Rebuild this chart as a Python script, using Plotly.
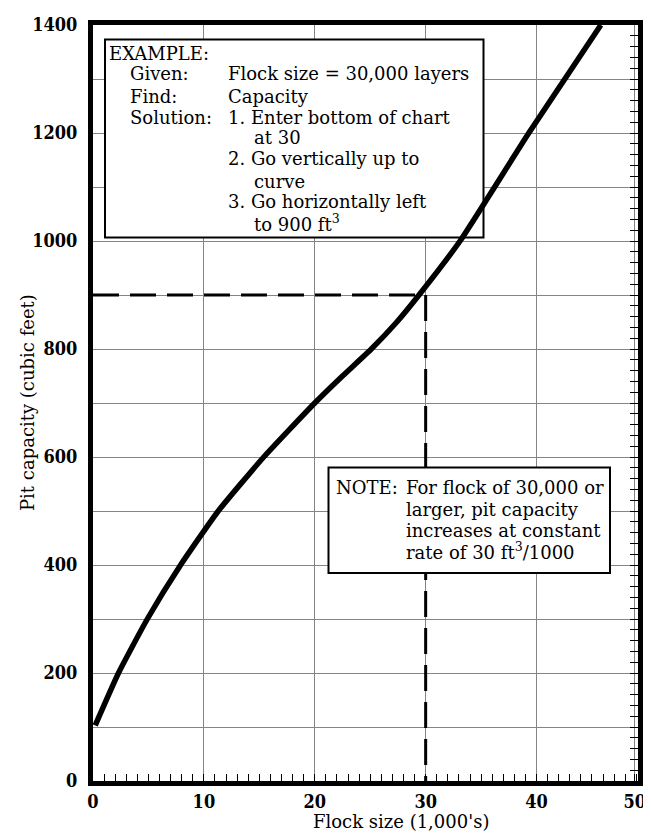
import plotly.graph_objects as go

# ---------------- data ----------------
flock_k = [0.2, 2.3, 4.9, 7.9, 11.3, 15.4, 20.0, 22.5, 25.1, 27.4, 29.4, 33.1, 39.3, 45.8]
capacity_ft3 = [103, 200, 300, 400, 500, 600, 700, 750, 800, 850, 900, 1000, 1200, 1400]

example_flock = 30
example_capacity = 900

x_tick_labels = ["0", "10", "20", "30", "40", "50"]
x_tick_vals = [0, 10, 20, 30, 40]
y_tick_vals = [0, 200, 400, 600, 800, 1000, 1200, 1400]

# ---------------- layout geometry ----------------
OFF = 8                      # page body margin of the html page
W, H = 651 - OFF, 836 - OFF  # figure size
ML, MT = 93 - OFF, 25 - OFF
PW, PH = 545, 756
MR = W - ML - PW
MB = H - MT - PH
XMAX = 49.15
YMAX = 1400

SERIF = "DejaVu Serif"
TICKFONT = "DejaVu Serif Condensed, DejaVu Serif"
GRID = "#858585"


def dx(px):  # page pixel -> data x
    return (px - OFF - ML) / PW * XMAX


def dy(py):  # page pixel -> data y
    return (MT + PH - (py - OFF)) / PH * YMAX


def fx(px):  # page pixel -> paper x
    return (px - OFF - ML) / PW


def fy(py):  # page pixel -> paper y
    return (MT + PH - (py - OFF)) / PH


fig = go.Figure()

# main curve
fig.add_trace(go.Scatter(
    x=flock_k, y=capacity_ft3, mode="lines",
    line=dict(color="black", width=5.5, shape="spline", smoothing=0.5),
    showlegend=False, hoverinfo="skip"))

# invisible trace for right-side tick axis
fig.add_trace(go.Scatter(x=[None], y=[None], yaxis="y2", showlegend=False, hoverinfo="skip"))

shapes = []
# dashed guide lines (drawn under the boxes)
dash = dict(color="black", width=3, dash="26px,11px")
shapes.append(dict(type="line", xref="x", yref="y", x0=0, x1=example_flock,
                   y0=example_capacity, y1=example_capacity, line=dash, layer="between"))
shapes.append(dict(type="line", xref="x", yref="y", x0=example_flock, x1=example_flock,
                   y0=example_capacity, y1=0, line=dash, layer="between"))
# text boxes
box_line = dict(color="black", width=2)
shapes.append(dict(type="rect", xref="x", yref="y", x0=dx(105), x1=dx(483.5), y0=dy(39.5), y1=dy(237.5),
                   line=box_line, fillcolor="white", layer="between"))
shapes.append(dict(type="rect", xref="x", yref="y", x0=dx(328.5), x1=dx(610), y0=dy(467.5), y1=dy(573),
                   line=box_line, fillcolor="white", layer="between"))

TXT = dict(family=SERIF, size=18, color="black")
annotations = []


def note(px, py, text):
    annotations.append(dict(x=fx(px), y=fy(py), xref="paper", yref="paper", text=text,
                            showarrow=False, xanchor="left", yanchor="middle",
                            font=TXT, borderpad=0, borderwidth=0))


note(109, 53, "EXAMPLE:")
note(130, 74, "Given:")
note(228, 74, "Flock size = 30,000 layers")
note(130, 96, "Find:")
note(228, 96, "Capacity")
note(130, 117, "Solution:")
note(228, 117, "1. Enter bottom of chart")
note(254, 138, "at 30")
note(228, 159, "2. Go vertically up to")
note(254, 181, "curve")
note(228, 202, "3. Go horizontally left")
note(254, 223, "to 900 ft<sup>3</sup>")

note(336, 487, "NOTE:")
note(406, 487, "For flock of 30,000 or")
note(406, 509, "larger, pit capacity")
note(406, 530, "increases at constant")
note(406, 551, "rate of 30 ft<sup>3</sup>/1000")

# axis titles
annotations.append(dict(x=fx(401), y=fy(821), xref="paper", yref="paper",
                        text="Flock size (1,000's)", showarrow=False,
                        xanchor="center", yanchor="middle", font=TXT))
annotations.append(dict(x=fx(27), y=fy(403), xref="paper", yref="paper",
                        text="Pit capacity (cubic feet)", showarrow=False, textangle=-90,
                        xanchor="center", yanchor="middle", font=TXT))

fig.update_layout(
    width=W, height=H, template="none",
    margin=dict(l=ML, r=MR, t=MT, b=MB, pad=0),
    paper_bgcolor="white", plot_bgcolor="white",
    showlegend=False,
    shapes=shapes, annotations=annotations,
    xaxis=dict(
        range=[0, XMAX], autorange=False, automargin=False,
        tickvals=x_tick_vals + [XMAX - 0.3], ticktext=x_tick_labels,
        ticks="inside", ticklen=7, tickwidth=1, tickcolor="black",
        showgrid=True, gridcolor=GRID, gridwidth=1.3,
        minor=dict(dtick=1, tick0=0, ticks="inside", ticklen=7, tickwidth=1,
                   tickcolor="black", showgrid=False),
        showline=True, linewidth=5, linecolor="black", mirror=True,
        zeroline=False,
        tickfont=dict(family=TICKFONT, size=18, color="black", weight="bold"),
        ticklabelstandoff=0,
    ),
    yaxis=dict(
        range=[0, YMAX], autorange=False, automargin=False,
        tickvals=y_tick_vals, ticks="",
        showgrid=True, gridcolor=GRID, gridwidth=1.3,
        minor=dict(dtick=100, tick0=0, showgrid=True, gridcolor=GRID, gridwidth=1.3, ticks=""),
        showline=True, linewidth=5, linecolor="black", mirror=True,
        zeroline=False,
        tickfont=dict(family=TICKFONT, size=18, color="black", weight="bold"),
        ticklabelstandoff=7,
    ),
    yaxis2=dict(
        range=[0, YMAX], autorange=False, automargin=False,
        overlaying="y", side="right", anchor="x",
        tickmode="linear", tick0=0, dtick=20,
        ticks="inside", ticklen=8, tickwidth=1, tickcolor="black",
        showticklabels=False, showgrid=False, showline=False, zeroline=False,
    ),
)

fig.write_html("out.html")
